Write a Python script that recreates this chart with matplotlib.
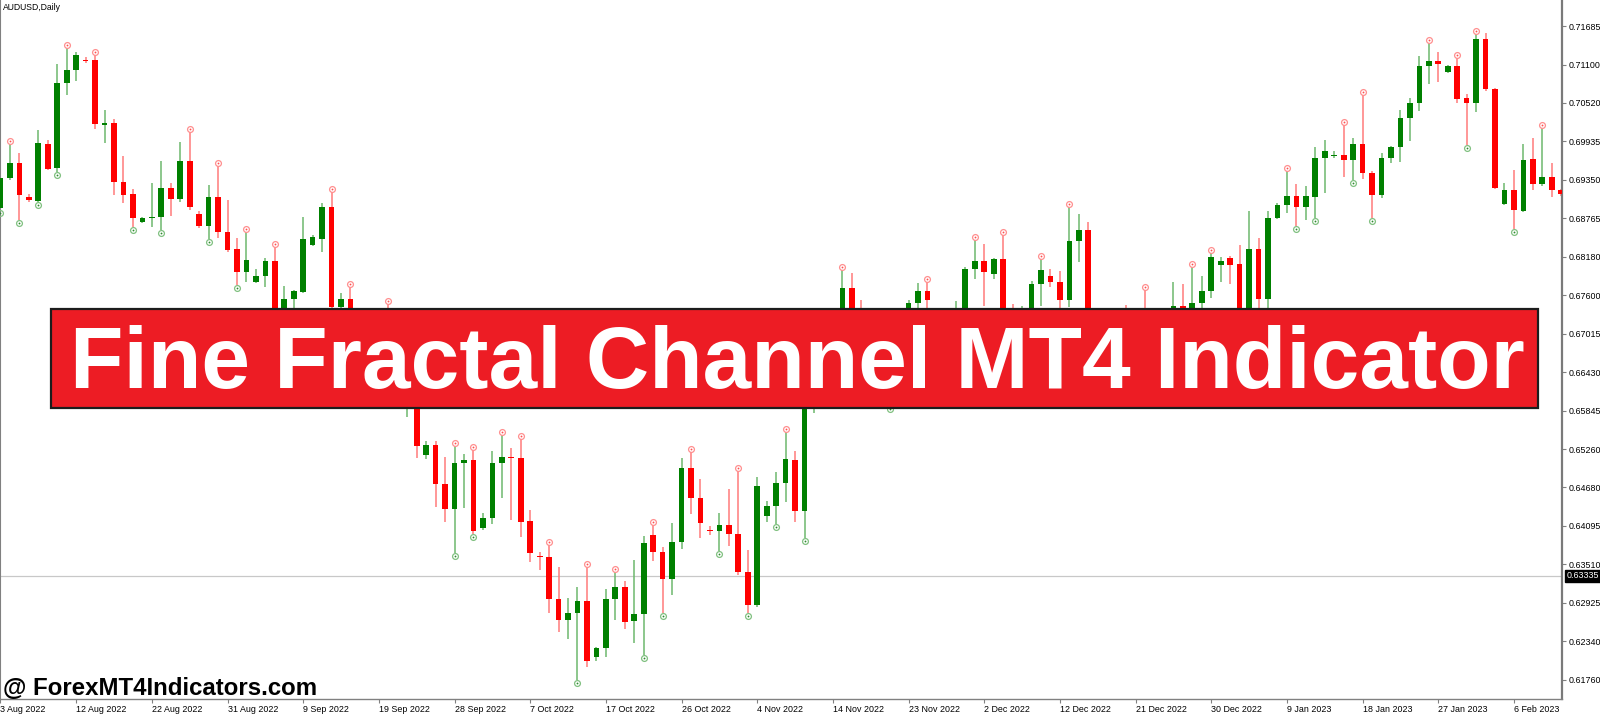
import matplotlib
matplotlib.use("Agg")
import matplotlib.pyplot as plt
import matplotlib.transforms as mtransforms
from matplotlib.patches import Rectangle
import numpy as np

symbol_label = "AUDUSD,Daily"
title_text = "Fine Fractal Channel MT4 Indicator"
watermark_text = "@ ForexMT4Indicators.com"

opens = [0.68921, 0.69377, 0.69605, 0.69088, 0.69028, 0.69893, 0.69529, 0.70820, 0.71017, 0.71169,
         0.71169, 0.70182, 0.70212, 0.69316, 0.69134, 0.68709, 0.68769, 0.68785, 0.69225, 0.69058,
         0.69635, 0.68830, 0.68648, 0.69088, 0.68557, 0.68299, 0.67949, 0.67798, 0.67889, 0.68117,
         0.67190, 0.67539, 0.67646, 0.68359, 0.68451, 0.68936, 0.67418, 0.67539, 0.66917, 0.66689,
         0.66993, 0.66841, 0.66309, 0.66006, 0.66127, 0.65170, 0.65322, 0.64730, 0.64350, 0.65049,
         0.65094, 0.64062, 0.64214, 0.65049, 0.65140, 0.65125, 0.64168, 0.63637, 0.63621, 0.62984,
         0.62665, 0.62771, 0.62953, 0.62103, 0.62240, 0.62984, 0.63166, 0.62650, 0.62756, 0.63955,
         0.63697, 0.63287, 0.63849, 0.64973, 0.64517, 0.64031, 0.64016, 0.64107, 0.63971, 0.63394,
         0.62893, 0.64244, 0.64396, 0.64745, 0.65094, 0.64320, 0.66082, 0.66461, 0.66233, 0.67145,
         0.67706, 0.67403, 0.66841, 0.66613, 0.66765, 0.66233, 0.66917, 0.67479, 0.67661, 0.67342,
         0.66993, 0.67145, 0.67296, 0.67995, 0.68117, 0.67919, 0.68147, 0.67251, 0.66917, 0.67220,
         0.67767, 0.67889, 0.67798, 0.67524, 0.68420, 0.68587, 0.66917, 0.66613, 0.66917, 0.66993,
         0.66689, 0.67069, 0.66917, 0.66613, 0.67069, 0.67433, 0.67251, 0.67479, 0.67661, 0.68056,
         0.68162, 0.68071, 0.67069, 0.68299, 0.67539, 0.68769, 0.68967, 0.69104, 0.68936, 0.69088,
         0.69681, 0.69711, 0.69726, 0.69650, 0.69893, 0.69453, 0.69119, 0.69681, 0.69848, 0.70288,
         0.70516, 0.71078, 0.71154, 0.70987, 0.71078, 0.70592, 0.70516, 0.71488, 0.70728, 0.68982,
         0.69195, 0.68876, 0.69665, 0.69286, 0.69392, 0.69195]

highs = [0.69468, 0.69893, 0.69757, 0.69134, 0.70106, 0.69954, 0.71108, 0.71351, 0.71290, 0.71214,
         0.71245, 0.70410, 0.70273, 0.69711, 0.69210, 0.68785, 0.69301, 0.69635, 0.69301, 0.69924,
         0.70075, 0.68876, 0.69271, 0.69559, 0.69043, 0.68466, 0.68557, 0.67995, 0.68162, 0.68329,
         0.67737, 0.67676, 0.68785, 0.68511, 0.68997, 0.69164, 0.67630, 0.67722, 0.67069, 0.67145,
         0.67296, 0.67463, 0.66461, 0.66309, 0.66233, 0.65383, 0.65383, 0.65140, 0.65307, 0.65186,
         0.65246, 0.64290, 0.65231, 0.65474, 0.65277, 0.65413, 0.64335, 0.63697, 0.63804, 0.63470,
         0.62999, 0.63166, 0.63470, 0.62255, 0.63135, 0.63394, 0.63257, 0.63576, 0.63940, 0.64107,
         0.63773, 0.64138, 0.65125, 0.65216, 0.64806, 0.64092, 0.64290, 0.64654, 0.64927, 0.63728,
         0.64836, 0.64472, 0.64912, 0.65520, 0.65231, 0.66157, 0.66613, 0.66689, 0.67220, 0.67980,
         0.67934, 0.67524, 0.66993, 0.66917, 0.66917, 0.67069, 0.67524, 0.67782, 0.67798, 0.67372,
         0.67342, 0.67509, 0.68025, 0.68435, 0.68375, 0.68162, 0.68511, 0.67463, 0.67433, 0.67813,
         0.68147, 0.67995, 0.67965, 0.68936, 0.68830, 0.68709, 0.67145, 0.67069, 0.67220, 0.67448,
         0.67251, 0.67676, 0.67145, 0.67251, 0.67798, 0.67767, 0.68025, 0.67889, 0.68238, 0.68177,
         0.68192, 0.68359, 0.68876, 0.68466, 0.68876, 0.68997, 0.69483, 0.69286, 0.69255, 0.69848,
         0.69954, 0.69787, 0.70182, 0.69984, 0.70637, 0.69483, 0.69757, 0.69863, 0.70410, 0.70592,
         0.71230, 0.71427, 0.71290, 0.71093, 0.71199, 0.70653, 0.71564, 0.71579, 0.70744, 0.69301,
         0.69498, 0.69893, 0.69984, 0.70136, 0.69605, 0.69210]

lows = [0.68891, 0.69347, 0.68739, 0.69012, 0.69012, 0.69498, 0.69468, 0.70637, 0.70850, 0.71123,
        0.70121, 0.69908, 0.69119, 0.68997, 0.68633, 0.68694, 0.68633, 0.68587, 0.68800, 0.69012,
        0.68891, 0.68618, 0.68451, 0.68466, 0.68253, 0.67752, 0.67798, 0.67782, 0.67722, 0.67038,
        0.67129, 0.67388, 0.67630, 0.68344, 0.68253, 0.67403, 0.67388, 0.66765, 0.66537, 0.66583,
        0.66613, 0.66233, 0.65930, 0.65747, 0.65125, 0.65110, 0.64381, 0.64153, 0.63682, 0.64366,
        0.63971, 0.64031, 0.64122, 0.64517, 0.64183, 0.63925, 0.63545, 0.63424, 0.62771, 0.62482,
        0.62376, 0.61754, 0.61951, 0.62042, 0.62103, 0.62665, 0.62528, 0.62315, 0.62133, 0.63561,
        0.62771, 0.63044, 0.63743, 0.64274, 0.63910, 0.63955, 0.63713, 0.63788, 0.63348, 0.62771,
        0.62862, 0.64153, 0.64122, 0.64457, 0.64153, 0.63910, 0.65808, 0.66082, 0.66157, 0.67069,
        0.66917, 0.66765, 0.66461, 0.66082, 0.65915, 0.66157, 0.66841, 0.67372, 0.67372, 0.66841,
        0.66765, 0.67069, 0.67220, 0.67843, 0.67433, 0.67843, 0.66993, 0.66841, 0.66765, 0.67145,
        0.67433, 0.67722, 0.67372, 0.67418, 0.68101, 0.66765, 0.66461, 0.66431, 0.66537, 0.66613,
        0.66537, 0.66765, 0.66492, 0.66431, 0.66993, 0.67145, 0.67190, 0.67372, 0.67555, 0.67798,
        0.67767, 0.66993, 0.66993, 0.67327, 0.67403, 0.68754, 0.68845, 0.68648, 0.68739, 0.68769,
        0.69149, 0.69681, 0.69392, 0.69347, 0.69362, 0.68769, 0.69073, 0.69605, 0.69620, 0.69939,
        0.70394, 0.70804, 0.70835, 0.70971, 0.70516, 0.69878, 0.70379, 0.70698, 0.69210, 0.68967,
        0.68602, 0.68861, 0.69195, 0.69255, 0.69088, 0.69104]

closes = [0.69377, 0.69605, 0.69119, 0.69043, 0.69908, 0.69514, 0.70820, 0.71017, 0.71245, 0.71154,
          0.70197, 0.70212, 0.69316, 0.69119, 0.68769, 0.68769, 0.68785, 0.69225, 0.69058, 0.69635,
          0.68936, 0.68648, 0.69088, 0.68557, 0.68284, 0.67949, 0.68132, 0.67889, 0.68117, 0.67145,
          0.67539, 0.67661, 0.68451, 0.68481, 0.68936, 0.67418, 0.67539, 0.66917, 0.66689, 0.66993,
          0.66765, 0.66309, 0.66006, 0.66157, 0.65307, 0.65322, 0.64730, 0.64350, 0.65049, 0.65094,
          0.64016, 0.64214, 0.65049, 0.65140, 0.65125, 0.64153, 0.63682, 0.63621, 0.62984, 0.62665,
          0.62771, 0.62953, 0.62042, 0.62240, 0.62984, 0.63166, 0.62634, 0.62756, 0.63834, 0.63697,
          0.63287, 0.63849, 0.64973, 0.64517, 0.64138, 0.64016, 0.64107, 0.63971, 0.63394, 0.62893,
          0.64700, 0.64396, 0.64745, 0.65110, 0.64320, 0.66082, 0.66461, 0.66233, 0.67069, 0.67706,
          0.67069, 0.66841, 0.66613, 0.66765, 0.66233, 0.66917, 0.67479, 0.67661, 0.67524, 0.66993,
          0.67220, 0.67342, 0.67995, 0.68117, 0.67949, 0.68147, 0.67069, 0.66917, 0.67251, 0.67767,
          0.67980, 0.67798, 0.67524, 0.68420, 0.68587, 0.66917, 0.66613, 0.66917, 0.66765, 0.66689,
          0.67069, 0.66917, 0.66613, 0.67069, 0.67433, 0.67251, 0.67479, 0.67661, 0.68177, 0.68117,
          0.68056, 0.67069, 0.68299, 0.67539, 0.68769, 0.68967, 0.69104, 0.68936, 0.69104, 0.69681,
          0.69787, 0.69726, 0.69650, 0.69893, 0.69453, 0.69119, 0.69681, 0.69848, 0.70288, 0.70516,
          0.71078, 0.71154, 0.71108, 0.71078, 0.70577, 0.70516, 0.71488, 0.70728, 0.69225, 0.69195,
          0.68891, 0.69650, 0.69286, 0.69392, 0.69195, 0.69134]

up_fractals = [1, 7, 10, 20, 23, 26, 29, 35, 37, 41, 48, 50, 53, 55, 58, 62, 65, 69, 73, 78, 83,
               89, 98, 103, 106, 110, 113, 121, 126, 128, 136, 142, 144, 151, 154, 156, 163]
down_fractals = [0, 2, 4, 6, 14, 17, 22, 25, 48, 50, 61, 68, 70, 76, 79, 82, 85, 94, 137, 139,
                 143, 145, 155, 160]

price_ticks = [0.71685, 0.71100, 0.70520, 0.69935, 0.69350, 0.68765, 0.68180, 0.67600, 0.67015,
               0.66430, 0.65845, 0.65260, 0.64680, 0.64095, 0.63510, 0.62925, 0.62340, 0.61760]
date_labels = ["3 Aug 2022", "12 Aug 2022", "22 Aug 2022", "31 Aug 2022", "9 Sep 2022",
               "19 Sep 2022", "28 Sep 2022", "7 Oct 2022", "17 Oct 2022", "26 Oct 2022",
               "4 Nov 2022", "14 Nov 2022", "23 Nov 2022", "2 Dec 2022", "12 Dec 2022",
               "21 Dec 2022", "30 Dec 2022", "9 Jan 2023", "18 Jan 2023", "27 Jan 2023",
               "6 Feb 2023"]
date_label_step = 8
current_price = 0.63335

# ---------------------------------------------------------------- figure
W, H = 1600, 714
fig = plt.figure(figsize=(W / 100, H / 100), dpi=100)
fig.patch.set_facecolor("white")
ax = fig.add_axes([0, 15 / H, 1562 / W, 699 / H])
ax.set_facecolor("white")

o = np.array(opens); h = np.array(highs); l = np.array(lows); c = np.array(closes)
x = np.arange(len(o))
bull = c >= o

GREEN = "#008000"
RED = "#ff0000"
body_col = np.where(bull, GREEN, RED)
wick_col = np.where(bull, "#6db86d", "#ff7a7a")

ax.axhline(current_price, color="#c8c8c8", lw=0.9, zorder=1)

ax.vlines(x, l, h, colors=wick_col, lw=1.1, zorder=2)
bottoms = np.minimum(o, c)
heights = np.maximum(np.abs(c - o), 0.00017)
ax.bar(x, heights, bottom=bottoms, width=0.6, color=body_col, linewidth=0, zorder=3)

# fractal markers
off_up = mtransforms.offset_copy(ax.transData, fig=fig, x=0, y=2.8, units="dots")
off_dn = mtransforms.offset_copy(ax.transData, fig=fig, x=0, y=-2.8, units="dots")
uf = np.array(up_fractals); df = np.array(down_fractals)
ax.plot(uf, h[uf], "o", ms=4.2, mfc="none", mec="#ff8f8f", mew=0.9, transform=off_up, zorder=4)
ax.plot(uf, h[uf], "o", ms=1.3, mfc="#ff5050", mec="none", transform=off_up, zorder=4)
ax.plot(df, l[df], "o", ms=4.2, mfc="none", mec="#80c080", mew=0.9, transform=off_dn, zorder=4)
ax.plot(df, l[df], "o", ms=1.3, mfc="#2e8b2e", mec="none", transform=off_dn, zorder=4)

# axes limits
spacing = 9.459
x_left = -0.5 / spacing
ax.set_xlim(x_left, x_left + 1562 / spacing)
ax.set_ylim(0.61465, 0.72080)

# spines
ax.spines["top"].set_visible(False)
ax.spines["left"].set_color("#808080")
ax.spines["bottom"].set_color("#808080")
ax.spines["right"].set_color("#7a7a7a")
ax.spines["right"].set_linewidth(1.6)
ax.spines["bottom"].set_linewidth(1.0)

small_font = dict(family="Liberation Sans", size=6.4)

ax.yaxis.tick_right()
ax.set_yticks(price_ticks)
ax.set_yticklabels([f"{p:.5f}" for p in price_ticks], **small_font)
ax.tick_params(axis="y", length=3, width=0.8, color="#808080", pad=2)

tick_pos = np.arange(0, len(date_labels) * date_label_step, date_label_step)
ax.set_xticks(tick_pos)
ax.set_xticklabels(date_labels, **small_font)
for lab in ax.get_xticklabels():
    lab.set_horizontalalignment("left")
ax.tick_params(axis="x", length=3, width=0.8, color="#808080", pad=1.5)

# current price label
ax.annotate(f"{current_price:.5f}", xy=(1.0, current_price),
            xycoords=("axes fraction", "data"), xytext=(3.5, 0), textcoords="offset points",
            ha="left", va="center", color="white", fontsize=6.4, family="Liberation Sans",
            bbox=dict(boxstyle="square,pad=0.18", fc="black", ec="black"), zorder=6,
            annotation_clip=False)

# top-left symbol
fig.text(3 / W, 1 - 2.5 / H, symbol_label, ha="left", va="top", fontsize=6.2,
         family="Liberation Sans", color="black")

# banner
banner = Rectangle((51 / W, (H - 408) / H), (1538 - 51) / W, 99 / H,
                   transform=fig.transFigure, facecolor="#ed1c24", edgecolor="#1c1c1c",
                   linewidth=1.6, zorder=10)
fig.add_artist(banner)
fig.text(797 / W, (H - 388) / H, title_text, ha="center", va="baseline", fontsize=63,
         family="Liberation Sans", weight="bold", color="white", zorder=11)

# watermark
fig.text(3 / W, (H - 695) / H, watermark_text, ha="left", va="baseline", fontsize=17.3,
         family="Liberation Sans", weight="bold", color="black", zorder=11)

fig.savefig("out.png", dpi=100, facecolor="white")
